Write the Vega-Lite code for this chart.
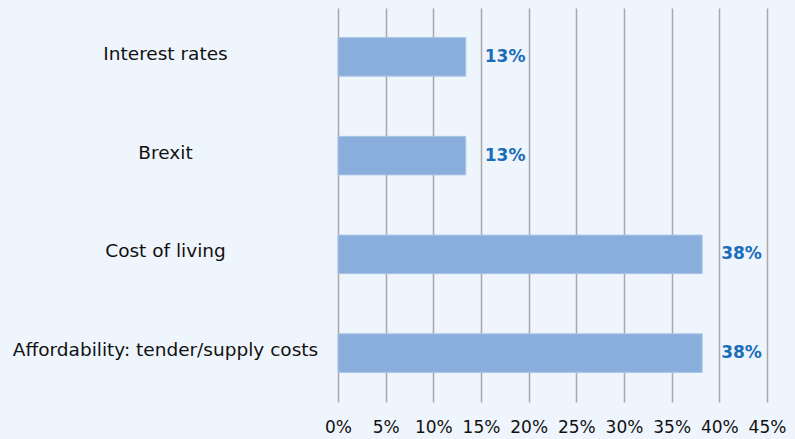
{
  "$schema": "https://vega.github.io/schema/vega-lite/v6.json",
  "autosize": {"type": "none"},
  "padding": {"left": 338, "top": 8, "right": 28, "bottom": 37},
  "width": 429,
  "height": 394,
  "background": "#eff5fc",
  "config": {"view": {"stroke": null}, "font": "DejaVu Sans"},
  "data": {"values": [
    {"factor": "Interest rates", "share": 0.134},
    {"factor": "Brexit", "share": 0.134},
    {"factor": "Cost of living", "share": 0.382},
    {"factor": "Affordability: tender/supply costs", "share": 0.382}
  ]},
  "encoding": {
    "y": {"field": "factor", "type": "nominal", "sort": null,
      "scale": {"paddingInner": 0.61, "paddingOuter": 0.3},
      "axis": {"title": null, "domain": false, "ticks": false, "labelAlign": "center", "labelPadding": 173, "labelOffset": -3, "labelFontSize": 18.5, "labelColor": "#111111", "labelFontWeight": "normal", "labelLimit": 400}},
    "x": {"field": "share", "type": "quantitative",
      "scale": {"domain": [0, 0.45], "nice": false},
      "axis": {"title": null, "format": ".0%", "values": [0, 0.05, 0.1, 0.15, 0.2, 0.25, 0.3, 0.35, 0.4, 0.45], "labelOverlap": false, "domain": false, "ticks": false, "grid": true, "gridColor": "#a9a9a9", "gridWidth": 1.5, "labelFontSize": 17, "labelColor": "#111111", "labelPadding": 17, "labelFontWeight": "normal", "labelFlush": false}}
  },
  "layer": [
    {"mark": {"type": "bar", "color": "#8aaedb", "stroke": "#a9c4e6", "strokeWidth": 1}},
    {"mark": {"type": "text", "align": "left", "dx": 19, "fontSize": 17, "fontWeight": "bold", "color": "#1b6dba"},
      "encoding": {"text": {"field": "share", "type": "quantitative", "format": ".0%"}}}
  ]
}
